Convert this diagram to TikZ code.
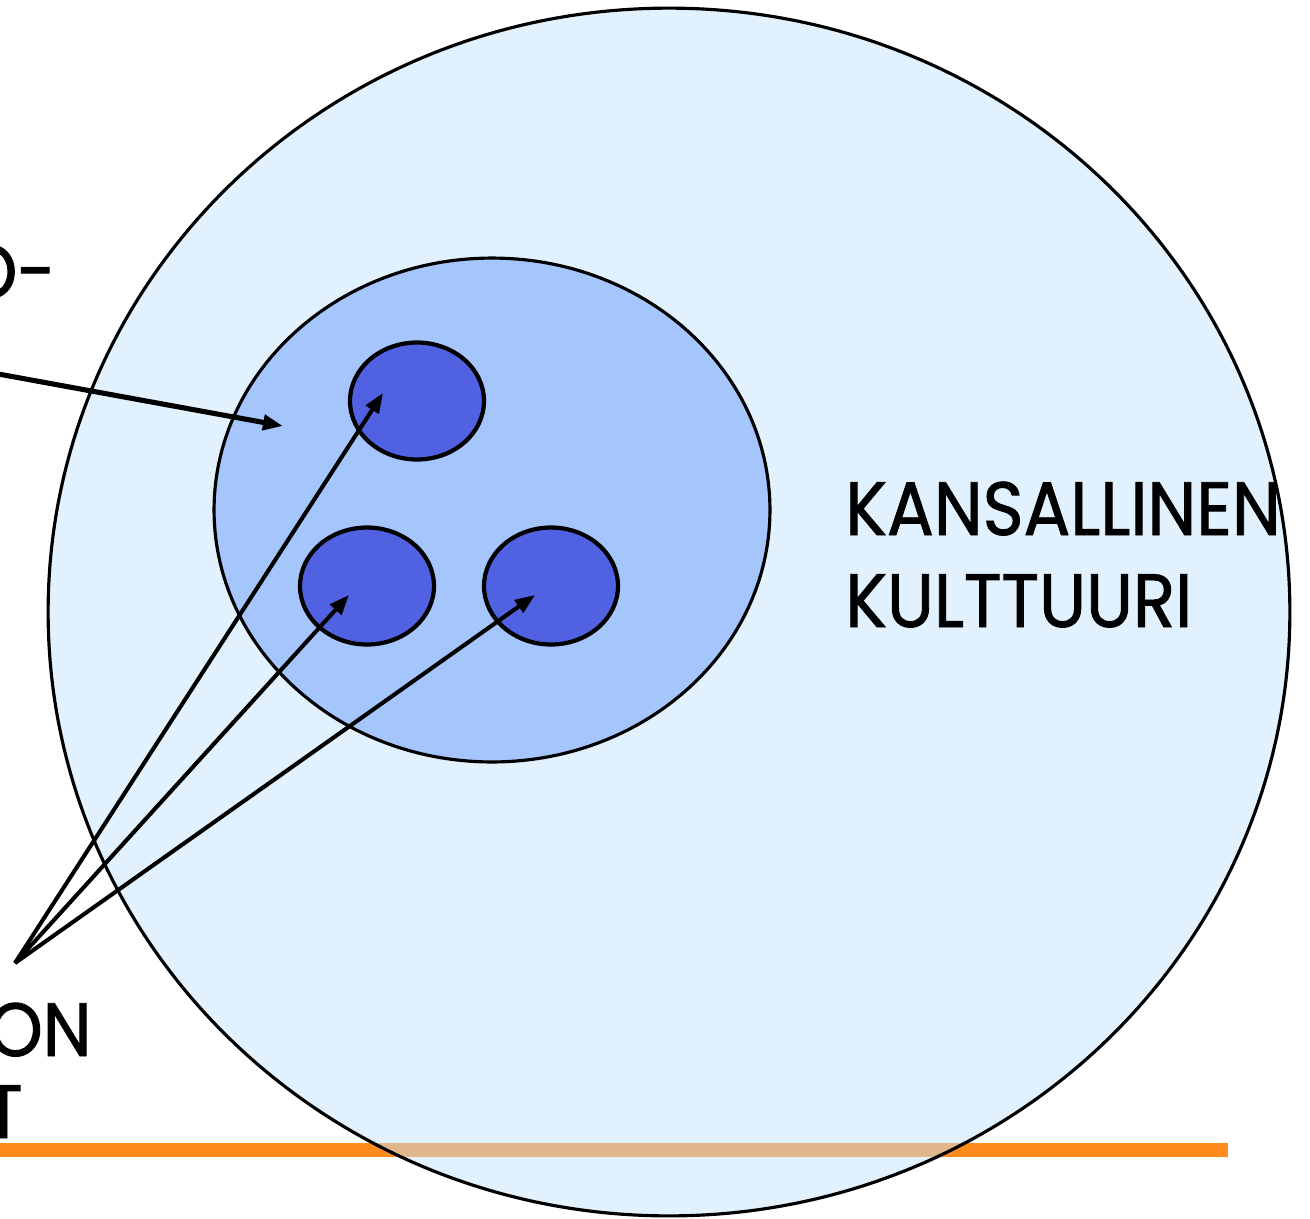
\documentclass[tikz,border=0pt]{standalone}
\usepackage{fontspec}
\setmainfont{Poppins}[FakeStretch = 0.92, FakeBold = 1.2]
\usetikzlibrary{arrows.meta}
\usetikzlibrary{shapes}
\definecolor{outerblue}{RGB}{195,229,253}
\definecolor{midblue}{RGB}{165,197,253}
\definecolor{coreblue}{RGB}{80,98,225}
\definecolor{barorange}{RGB}{255,138,30}
\begin{document}
\begin{tikzpicture}[x = 0.02cm, y = -0.02cm, font=\fontsize{43}{50}\selectfont]
	\tikzstyle{ringStyle}=[shape = ellipse, inner sep = 0pt, draw, line width = 1.8pt]
	\tikzstyle{coreStyle}=[shape = ellipse, inner sep = 0pt, draw, fill = coreblue, line width = 2.4pt, minimum width = 2.68cm, minimum height = 2.34cm]
	\tikzstyle{pointStyle}=[-{Triangle[length = 0.4cm, width = 0.3cm]}, line width = 2.3pt]
	\tikzstyle{labelStyle}=[inner sep = 0pt]
	\useasboundingbox (0,0) rectangle (1310,1218);
	\draw[barorange, line width = 8.5pt] (0,1150) -- (1228,1150);
	\node[ringStyle, fill = outerblue, fill opacity = 0.5, minimum width = 24.84cm, minimum height = 24.16cm] (nation) at (669,612) {};
	\node[ringStyle, fill = midblue, minimum width = 11.12cm, minimum height = 10.08cm] (region) at (492,510) {};
	\node[coreStyle] (groupA) at (417,401) {};
	\node[coreStyle] (groupB) at (367,586) {};
	\node[coreStyle] (groupC) at (551,586) {};
	\coordinate (src) at (-40,367);
	\coordinate (tipR) at (283,426);
	\coordinate (hub) at (15,963);
	\coordinate (tipA) at (383,393);
	\coordinate (tipB) at (349,595);
	\coordinate (tipC) at (535,595);
	\draw[pointStyle, line width = 2.9pt] (src) -- (tipR);
	\draw[pointStyle] (hub) -- (tipA);
	\draw[pointStyle] (hub) -- (tipB);
	\draw[pointStyle] (hub) -- (tipC);
	\node[labelStyle, anchor = base east] (topword) at (56,298) {O-};
	\node[labelStyle, anchor = base east] (lowA) at (92,1056) {ON};
	\node[labelStyle, anchor = base east] (lowB) at (23,1138) {T};
	\node[labelStyle, anchor = base west] (natA) at (845,535) {KANSALLINEN};
	\node[labelStyle, anchor = base west] (natB) at (845,627) {KULTTUURI};
\end{tikzpicture}
\end{document}
